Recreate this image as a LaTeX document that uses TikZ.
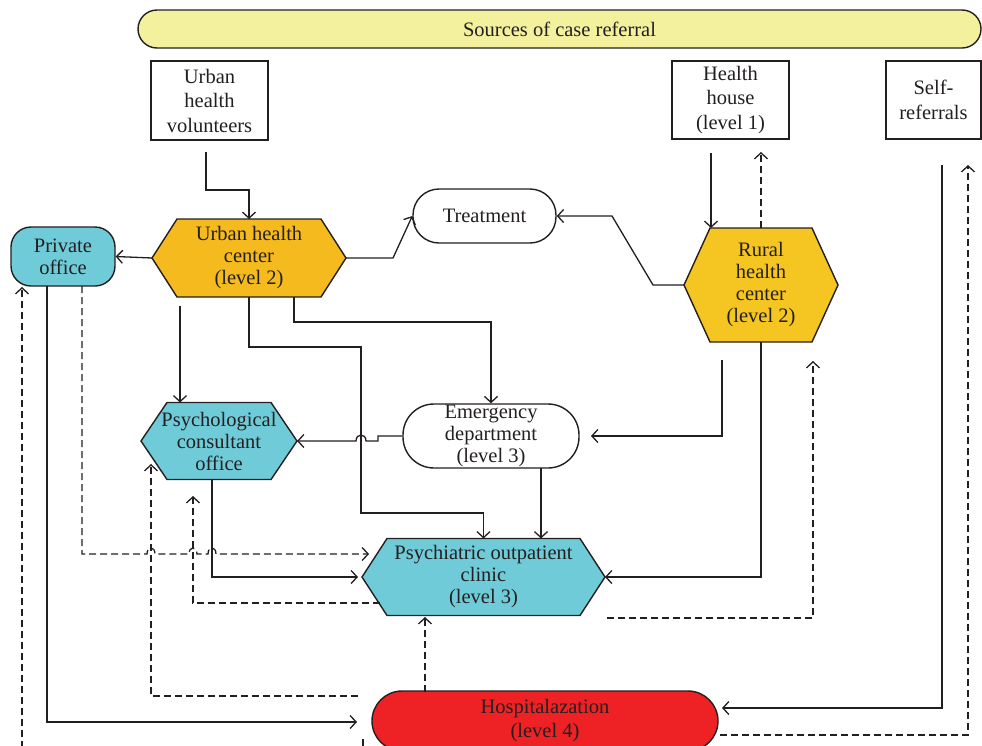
\documentclass[tikz,border=0pt]{standalone}
\usepackage{fontspec}
\setmainfont{Liberation Serif}
\usetikzlibrary{arrows.meta,backgrounds}
\definecolor{uhcO}{HTML}{F4BA1E}
\definecolor{rurO}{HTML}{F5C521}
\definecolor{cyanB}{HTML}{70CBD8}
\definecolor{redB}{HTML}{EE2225}
\definecolor{banY}{HTML}{F3F19E}
\definecolor{ink}{HTML}{231F20}
\tikzset{
 base/.style={draw=ink, line width=1.4pt},
 sqbox/.style={base, fill=white, font=\fontsize{20.5}{24.5}\selectfont},
 pillbox/.style={base},
 conn/.style={draw=ink, line width=1.3pt, -{Straight Barb[length=6pt,width=13pt]}},
 dconn/.style={conn, dash pattern=on 7pt off 4pt},
}
\newcommand\hexshape[5]{%
 \draw[base, fill=#5] ([shift={(-#2,-#3)}]#1.center) -- ([shift={(#2,-#3)}]#1.center) -- ([shift={(#2+#4,0)}]#1.center) -- ([shift={(#2,#3)}]#1.center) -- ([shift={(-#2,#3)}]#1.center) -- ([shift={(-#2-#4,0)}]#1.center) -- cycle;
 \coordinate (#1-w) at ([shift={(-#2-#4,0)}]#1.center);
 \coordinate (#1-e) at ([shift={(#2+#4,0)}]#1.center);
 \coordinate (#1-n) at ([shift={(0,-#3)}]#1.center);
 \coordinate (#1-s) at ([shift={(0,#3)}]#1.center);}
\begin{document}
\begin{tikzpicture}[x=1pt,y=-1pt,font=\fontsize{20.5}{22}\selectfont,
  every node/.style={text=ink,align=center,inner sep=0pt}]
\useasboundingbox (0,0) rectangle (982,745);

% banner and source boxes
\node[pillbox, fill=banY, rounded corners=19pt, minimum width=843pt, minimum height=38pt] (src) at (559.5,29) {Sources of case referral};
\node[sqbox, minimum width=117pt, minimum height=79pt] (vol) at (209.5,100.5) {Urban\\health\\volunteers};
\node[sqbox, minimum width=117pt, minimum height=78pt] (hh) at (730.5,100) {Health\\house\\(level 1)};
\node[sqbox, minimum width=95pt, minimum height=78pt] (self) at (933.5,100) {Self-\\referrals};

% hexagon texts
\node (uhc) at (249,258) {Urban health\\center\\(level 2)};
\node (rur) at (761,285) {Rural\\health\\center\\(level 2)};
\node (pco) at (219,441) {Psychological\\consultant\\office};
\node (poc) at (483.5,577) {Psychiatric outpatient\\clinic\\(level 3)};

\begin{scope}[on background layer]
\hexshape{uhc}{72}{39}{25}{uhcO}
\hexshape{rur}{51}{57}{26}{rurO}
\hexshape{pco}{52}{38.5}{26}{cyanB}
\hexshape{poc}{96.5}{38.5}{25}{cyanB}
\end{scope}

% rounded nodes
\node[pillbox, fill=cyanB, rounded corners=20pt, minimum width=104pt, minimum height=59pt] (priv) at (63,256.5) {Private\\office};
\node[pillbox, fill=white, rounded corners=26pt, minimum width=143pt, minimum height=54pt] (treat) at (484.5,216) {Treatment};
\node[pillbox, fill=white, rounded corners=31pt, minimum width=176pt, minimum height=64pt] (emer) at (491,436) {Emergency\\department\\(level 3)};
\node[pillbox, fill=redB, rounded corners=30pt, minimum width=346pt, minimum height=60pt] (hosp) at (545,721) {Hospitalazation\\[2pt](level 4)};

% free ends
\coordinate (volout) at (206,152);
\coordinate (hhout) at (711,153);
\coordinate (hhin) at (761,152);
\coordinate (uhcbl) at (180,306);
\coordinate (uhcbr) at (294,297);
\coordinate (rurbl) at (722,360);
\coordinate (emerbr) at (541,468);
\coordinate (pcob) at (212,480);
\coordinate (privbl) at (47,286);
\coordinate (privbr) at (82,286);
\coordinate (hosptl) at (358,696);
\coordinate (poclb) at (380,603);
\coordinate (hospt) at (425,692);
\coordinate (pocrb) at (607,618);
\coordinate (hospr) at (720,735);
\coordinate (hospbl) at (363,739);
\coordinate (selfout) at (942,165);

% solid connectors
\draw[conn] (volout) -- (206,190) -| (uhc-n);
\draw[conn] (uhc-w) -- (priv.east);
\draw[conn] (uhc-e) -- (393,258) -- (treat.west);
\draw[conn] (rur-w) -- (653,285) -- (612,216) -- (treat.east);
\draw[conn] (hhout) -- (hhout |- rur-n);
\draw[conn] (uhcbl) -- (uhcbl |- pco-n);
\draw[conn] (uhc-s) -- (249,347) -- (361,347) -- (361,513) -- (483.5,513) -- (poc-n);
\draw[conn] (uhcbr) -- (294,322) -| (emer.north);
\draw[conn] (emer.west) -- (378,436) -- (378,441) -- (366,441) .. controls (366,433) and (356,433) .. (356,441) -- (pco-e);
\draw[conn] (rurbl) -- (722,436) -- (591,436);
\draw[conn] (rur-s) -- (poc-e -| rur-s) -- (poc-e);
\draw[conn] (emerbr) -- (emerbr |- poc-n);
\draw[conn] (pcob) -- (212,577) -- (358,577);
\draw[conn] (privbl) -- (47,722) -- (357,722);
\draw[conn] (selfout) -- (942,708) -- (722,708);

% dashed connectors
\draw[dconn] (rur-n) -- (hhin);
\draw[dconn] (privbr) -- (82,554) -- (147,554) .. controls (147,546) and (155,546) .. (155,554) -- (189,554) .. controls (189,546) and (197,546) .. (197,554) -- (208,554) .. controls (208,546) and (216,546) .. (216,554) -- (369,554);
\draw[dconn] (hosptl) -- (151,696) -- (151,464);
\draw[dconn] (poclb) -- (193,603) -- (193,496);
\draw[dconn] (hospt) -- (425,617);
\draw[dconn] (pocrb) -- (813,618) -- (813,361);
\draw[dconn] (hospr) -- (968,735) -- (968,165);
\draw[dconn] (hospbl) -- (363,760) -- (22,760) -- (22,287);
\end{tikzpicture}
\end{document}
